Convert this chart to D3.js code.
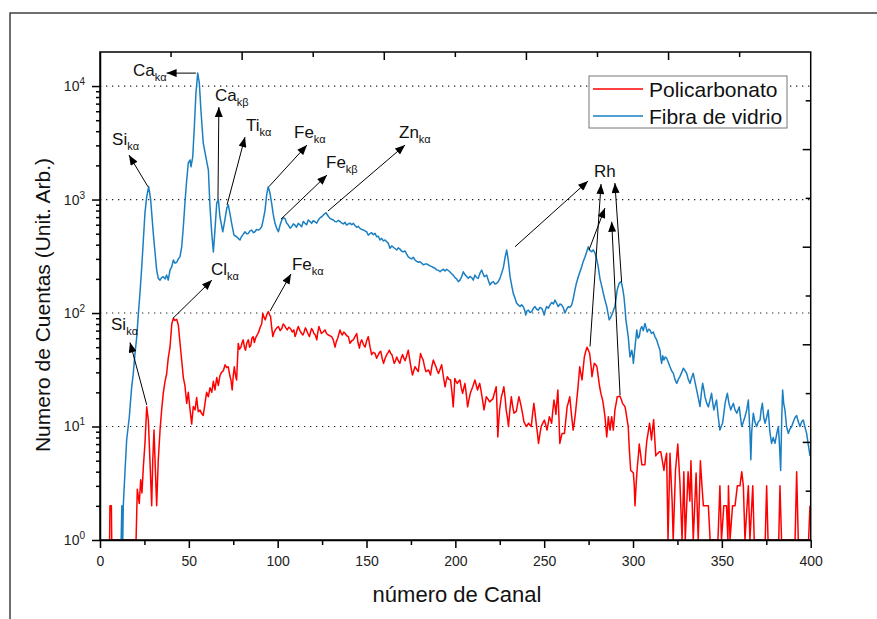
<!DOCTYPE html>
<html>
<head>
<meta charset="utf-8">
<script src="https://cdn.jsdelivr.net/npm/d3@7"></script>
<style>
  body { margin: 0; background: #fff; }
  svg { display: block; font-family: "Liberation Sans", Arial, sans-serif; }
</style>
</head>
<body>
<svg id="chart" width="877" height="619"></svg>
<script>
// ---- data ----
const canalTicks = [0, 50, 100, 150, 200, 250, 300, 350, 400];
const canalMinor = [25, 75, 125, 175, 225, 275, 325, 375];
const cuentasTicks = [1, 10, 100, 1000, 10000];
const seriesNames = ["Policarbonato", "Fibra de vidrio"];

// [canal, cuentas]
const policarbonato = [[5.4,1],[5.6,2],[6.4,2],[6.6,1],[20.3,1],[21.0,2.8],[22.1,2.1],[22.9,3.4],[23.6,2.6],[24.4,4.4],[25.3,7.1],[26.3,14.9],[27.2,11.4],[28.1,5.1],[29.1,2],[29.7,5.1],[30.4,9.3],[31.1,4.4],[31.9,2],[32.8,5.1],[33.8,9.3],[34.7,14],[35.6,19.6],[36.6,25],[37.5,29],[38.4,40],[39.4,50],[40.4,80],[41.3,90],[42.2,86],[43.2,88],[44.1,78],[45.0,55],[46.0,38],[46.9,27],[47.8,23],[48.8,16],[49.7,20],[50.7,14],[51.6,10.5],[52.5,15],[53.5,14],[54.4,18],[55.3,13.5],[56.3,14],[57.2,13],[58.1,12.5],[59.1,16],[60.0,20],[61.0,18.3],[61.9,22],[62.9,20],[63.8,25],[64.7,21],[65.7,27],[66.6,23],[67.5,28],[68.4,30],[69.4,31],[70.4,35],[71.3,33],[72.2,33.6],[73.1,28],[73.7,25.7],[74.4,21],[75.0,28],[75.6,33.6],[76.3,28],[76.9,25.7],[77.8,54],[78.5,48],[79.3,50],[80.0,55],[80.6,58],[81.3,50],[81.9,47],[82.7,55],[83.5,58],[84.2,50],[84.9,52],[85.5,60],[86.2,62],[86.9,55],[87.5,60],[88.2,63],[88.9,66],[89.6,70],[90.3,76],[91.0,80],[91.6,99],[92.3,92],[93.0,87],[93.9,97],[94.7,103],[95.3,98],[96.0,93],[96.6,75],[97.3,62],[98.0,68],[98.7,71],[99.5,74],[100.4,76],[101.4,70],[102.3,73],[103.1,80],[103.8,78],[104.6,74],[105.4,71],[106.3,75],[107.2,73],[108.2,68],[109.1,71],[109.8,62],[110.4,66],[111.0,72],[111.6,76],[112.5,70],[113.5,66],[114.2,64],[114.9,68],[115.6,74],[116.2,71],[117.0,66],[117.9,62],[118.5,68],[119.1,73],[119.8,70],[120.4,66],[121.2,64],[122.0,58],[122.6,68],[123.2,76],[124.0,70],[124.6,66],[125.6,68],[126.6,71],[127.5,66],[128.5,64],[129.4,63],[130.4,62],[131.3,58],[132.3,50],[133.0,56],[133.8,60],[134.5,66],[135.1,71],[135.8,66],[136.4,64],[137.2,68],[138.0,66],[138.9,63],[139.8,62],[140.7,54],[141.7,57],[142.6,58],[143.5,62],[144.5,66],[145.2,55],[146.0,49],[146.6,55],[147.3,58],[148.2,53],[149.2,50],[150.1,57],[151.0,62],[152.0,50],[152.9,43],[153.8,45],[154.8,44],[155.7,40],[156.7,43],[157.3,45],[158.0,46],[158.8,40],[159.6,36],[160.5,40],[161.4,43],[162.2,45],[162.9,47],[163.6,44],[164.3,43],[165.0,39],[165.6,36],[166.3,38],[167.0,41],[167.9,38],[168.8,36],[169.5,40],[170.3,43],[171.0,40],[171.7,38],[172.6,42],[173.5,47],[174.2,40],[174.8,35],[175.4,31],[175.9,28.4],[176.6,31],[177.3,33.6],[178.2,32],[179.1,30.5],[179.8,37],[180.4,44],[181.1,41],[181.9,38.5],[182.6,34],[183.4,30.5],[184.2,31],[184.9,31.5],[185.5,30],[186.0,28.4],[186.8,34],[187.6,38.5],[188.3,36],[189.1,33.6],[189.8,31],[190.5,29.4],[191.4,32],[192.3,35],[193.2,28],[194.2,22.4],[194.8,25],[195.5,27.5],[196.4,26],[197.3,25.7],[198.1,20],[198.8,14.9],[199.3,20],[199.7,26.5],[200.4,25],[201.1,24],[201.8,25],[202.6,25.7],[203.3,22],[204.1,19.6],[204.8,22],[205.4,24],[206.2,19],[206.9,14.9],[207.6,17],[208.4,19.6],[209.1,21],[209.8,22.4],[210.4,24],[211.0,25.7],[211.8,23],[212.5,21],[213.1,22.5],[213.7,24],[214.4,21],[215.0,18.3],[215.6,16],[216.1,14],[216.8,16],[217.4,18.3],[218.4,17.4],[219.3,16.5],[220.2,17],[221.1,17.5],[222.1,20],[223.0,22.4],[223.5,14],[223.9,8.1],[224.4,11],[224.9,14],[225.4,16],[225.9,18.3],[226.6,20],[227.3,22.4],[228.0,18],[228.6,14],[229.3,12],[229.9,10],[230.7,14],[231.5,18.3],[232.3,15],[233.0,13.1],[233.7,13.4],[234.3,13.6],[235.1,16],[235.8,18.3],[236.5,16.5],[237.1,14.9],[237.9,12.8],[238.6,11],[239.3,10.5],[239.9,10],[240.6,10.3],[241.2,10.7],[242.0,10.3],[242.7,10],[243.5,13],[244.2,16],[244.9,13],[245.5,10.7],[246.2,8.7],[246.8,7.1],[247.6,8.6],[248.3,10],[249.2,10.7],[250.1,11.4],[250.9,10.3],[251.6,9.3],[252.3,10.7],[252.9,12.2],[253.6,11.4],[254.2,10.7],[254.9,14],[255.5,17.1],[256.1,15],[256.6,12.8],[257.2,17],[257.7,21],[258.3,12],[258.8,7.1],[259.5,8],[260.1,8.7],[260.8,8.7],[261.4,8.7],[262.2,11.5],[262.9,14.9],[263.7,16.5],[264.4,18.3],[265.3,13],[266.3,9.3],[267.0,11],[267.6,13.1],[268.3,17],[268.9,21],[269.5,27],[270.0,33.6],[270.7,29],[271.3,25.7],[272.0,33],[272.6,41],[273.4,46],[274.1,50],[274.9,47],[275.6,44],[276.3,35],[276.9,27.5],[277.6,32],[278.2,36],[279.0,35],[279.7,33.6],[280.5,27],[281.2,22.4],[282.1,19],[282.9,17.1],[283.6,14.5],[284.2,12.2],[284.7,10],[285.2,8.1],[285.7,10],[286.1,12.2],[286.6,10.5],[287.1,9.3],[287.5,10.8],[288.0,12.2],[288.5,10.5],[288.9,9.3],[289.4,11.5],[289.8,14],[290.5,16],[291.1,18.3],[291.9,18.4],[292.6,18.6],[293.4,17.3],[294.1,16],[294.8,15.5],[295.5,14.9],[296.0,13.5],[296.4,12.2],[297.3,10],[298.0,6],[298.7,4.1],[299.5,4],[300.2,3.9],[300.7,3],[301.1,2],[301.8,3.2],[302.4,4.4],[303.0,5.5],[303.5,7],[304.2,5.8],[305.0,4.6],[305.8,4.6],[306.7,4.6],[307.2,6],[307.8,7.6],[308.6,9],[309.3,10.7],[309.9,9],[310.4,7.6],[311.0,9.5],[311.6,11.5],[312.2,8],[312.8,5.5],[313.4,5.7],[314.0,5.8],[314.8,6],[315.6,6],[316.5,5],[317.4,4.1],[318.1,5],[318.9,5.8],[319.7,1],[320.8,5.8],[322.0,2.2],[322.6,1],[323.9,4.1],[325.2,7],[326.4,3.2],[327.6,1],[328.6,4],[329.4,1],[331.0,4],[332.0,2.2],[332.6,5],[333.9,1],[335.5,3.9],[336.7,1],[337.9,5],[338.8,3],[339.6,2],[341.0,2],[342.4,2],[343.4,1],[347.8,1],[348.9,3],[349.8,1],[351.1,2],[352.6,2],[353.4,1],[353.7,3],[354.6,1],[356.0,2],[357.4,2],[358.7,3],[360.2,3],[361.2,4],[362.1,3],[363.0,1],[363.9,1.7],[364.9,3],[365.8,1],[367.4,3],[368.2,1],[374.4,1],[375.2,3],[376.0,1],[382.0,1],[382.7,3],[383.6,1],[391.2,1],[392.1,4],[393.0,1],[398.8,1],[399.6,2]];

const fibraVidrio = [[11.9,1],[12.3,2],[12.8,1],[13.1,2],[14.1,4.1],[15.0,7.6],[16.5,12.2],[17.8,22],[18.7,29],[19.7,44],[20.7,62],[21.6,99],[22.5,150],[23.5,256],[24.4,440],[25.3,760],[26.3,1060],[27.4,1300],[28.5,1000],[30.0,503],[31.0,338],[31.9,239],[32.8,202],[33.8,195],[34.7,205],[35.6,209],[36.6,200],[37.5,216],[38.4,195],[39.4,239],[40.4,256],[41.3,293],[42.2,275],[43.2,280],[44.1,300],[45.0,313],[46.0,384],[46.9,576],[47.8,931],[48.8,1486],[49.7,2100],[50.7,2230],[51.2,1945],[52.2,2380],[53.1,4380],[54.0,8670],[55.0,13030],[55.9,10620],[56.8,6150],[58.1,3150],[59.7,2320],[61.0,1820],[61.9,865],[62.9,503],[63.8,345],[64.7,538],[65.7,931],[66.6,1000],[67.5,705],[69.1,520],[70.4,680],[71.4,850],[72.2,895],[73.1,760],[74.1,617],[75.4,486],[76.9,470],[77.8,455],[78.8,440],[79.6,470],[80.3,486],[81.6,520],[82.5,500],[83.5,503],[84.4,530],[85.4,538],[86.3,510],[87.2,520],[88.1,545],[89.1,538],[90.0,550],[91.0,576],[92.0,680],[92.9,808],[93.8,1100],[94.7,1297],[95.6,1150],[96.6,931],[97.5,740],[98.5,617],[99.4,560],[100.4,520],[101.3,590],[102.3,660],[103.2,690],[104.1,682],[105.0,620],[106.0,596],[107.0,560],[107.9,576],[108.8,610],[109.7,596],[110.6,570],[111.6,617],[112.5,600],[113.5,576],[114.4,640],[115.4,617],[116.3,600],[117.2,660],[118.2,640],[119.1,617],[120.0,650],[121.0,637],[122.0,620],[122.9,660],[123.8,690],[124.8,705],[126.0,740],[127.2,765],[128.3,720],[129.4,682],[130.4,670],[131.3,660],[132.3,640],[133.2,637],[134.2,655],[135.1,640],[136.1,620],[137.0,610],[137.9,630],[138.8,596],[139.8,610],[140.7,620],[141.7,600],[142.6,617],[143.5,590],[144.5,570],[145.4,580],[146.3,557],[147.3,545],[148.2,540],[149.1,530],[150.1,520],[151.0,486],[151.9,500],[152.9,510],[153.8,490],[154.8,503],[155.7,470],[156.6,475],[157.6,440],[158.5,455],[159.5,432],[160.4,440],[161.4,425],[162.3,411],[163.2,372],[164.2,390],[165.1,380],[166.0,370],[167.0,359],[167.9,375],[168.9,365],[169.8,350],[170.7,347],[171.7,352],[172.6,330],[173.5,313],[174.5,305],[175.4,300],[176.4,310],[177.3,293],[178.2,285],[179.2,280],[180.1,283],[181.1,274],[182.0,266],[183.0,270],[183.9,271],[184.8,265],[185.8,260],[186.7,256],[187.6,252],[188.5,248],[189.5,240],[190.4,238],[191.4,231],[192.3,238],[193.3,243],[194.2,235],[195.1,243],[196.1,237],[197.0,230],[197.9,222],[198.8,216],[199.8,205],[200.7,200],[201.7,189],[202.6,195],[203.6,210],[204.5,231],[205.4,218],[206.4,210],[207.3,202],[208.2,210],[209.2,205],[210.1,195],[211.0,216],[212.0,205],[212.9,202],[213.9,225],[214.8,239],[215.7,220],[216.3,209],[217.6,216],[218.5,195],[219.5,177],[220.4,185],[221.4,189],[222.3,180],[223.3,183],[224.2,190],[225.1,202],[226.1,225],[227.0,250],[228.0,310],[228.9,359],[229.8,290],[230.8,209],[231.7,175],[232.6,149],[233.6,135],[234.5,122],[235.4,118],[236.4,114],[237.3,118],[238.2,114],[239.1,105],[239.6,96],[240.2,104],[241.1,106],[242.0,101],[243.0,103],[243.9,110],[244.8,114],[245.8,108],[246.7,106],[247.6,112],[248.6,110],[249.5,102],[250.0,96],[250.5,104],[251.4,114],[252.3,110],[253.3,118],[254.2,124],[255.2,120],[256.1,130],[257.0,122],[257.9,114],[258.9,120],[259.8,118],[260.7,112],[261.7,100],[262.6,108],[263.6,114],[264.5,112],[265.5,118],[266.4,135],[267.3,160],[268.2,185],[269.2,209],[270.1,230],[271.1,256],[272.0,285],[273.0,313],[273.9,345],[274.8,384],[275.8,355],[276.7,347],[277.6,360],[278.6,338],[279.5,300],[280.4,256],[281.4,200],[282.3,175],[283.3,149],[284.2,130],[285.2,114],[285.9,100],[286.6,87],[287.5,92],[288.5,100],[289.2,108],[289.8,114],[290.5,135],[291.1,160],[292.2,183],[293.0,188],[293.6,183],[294.3,160],[294.9,139],[295.5,110],[296.0,87],[296.7,72],[297.3,62],[297.8,50],[298.3,41],[299.3,47],[299.8,42],[300.2,36],[301.1,50],[302.1,71],[302.8,60],[303.5,62],[304.2,72],[304.9,76],[305.8,70],[306.7,81],[307.4,74],[308.0,68],[308.8,72],[309.5,71],[310.4,66],[311.4,68],[312.3,62],[313.3,58],[314.2,52],[315.2,47],[315.6,40],[316.1,36],[316.7,42],[317.4,38.5],[318.1,41],[318.9,40],[319.8,37],[320.8,33.6],[321.7,31],[322.7,29.4],[323.6,26],[324.6,24],[325.5,26],[326.4,27.5],[327.4,30],[328.3,32.6],[329.3,31],[330.2,29.4],[331.1,26],[332.1,24],[333.0,27],[333.9,29.4],[334.8,25],[335.8,21],[336.7,18],[337.7,15],[338.5,20],[339.2,24],[339.9,21],[340.5,18.3],[341.5,16],[342.4,14.9],[343.3,17],[344.2,19.6],[344.9,16],[345.5,14],[346.2,15.5],[347.0,17.1],[348.0,12],[348.9,9.3],[349.6,10],[350.4,10.7],[351.1,13],[351.8,16],[352.5,18],[353.1,19.6],[354.0,16],[355.0,14],[355.7,15],[356.5,16],[357.4,14],[358.4,13.1],[359.1,14],[359.8,14.9],[360.5,12],[361.2,10],[362.1,11],[363.0,12.2],[364.0,14],[364.9,17.1],[365.8,9],[366.3,5.1],[366.8,9],[367.7,13.1],[368.6,11],[369.6,10],[370.5,11],[371.5,11.4],[372.1,14],[372.8,16],[373.6,12],[374.3,10.7],[375.2,12],[376.1,14],[377.0,9],[378.0,7.1],[378.9,8],[379.9,7.1],[380.8,8.5],[381.8,10],[382.4,7],[383.1,4.1],[383.7,12],[384.2,21],[384.8,16],[385.5,14],[386.4,10],[387.4,8.7],[388.3,9.5],[389.3,10],[390.2,11],[391.2,12],[392.1,12.5],[393.0,11],[394.0,10],[394.9,11],[395.8,11.4],[396.7,10],[397.7,8.7],[398.6,7],[399.6,5.5]];

// peak labels: arrow tail -> arrow head, label anchor (canal / cuentas)
const picos = [
  { el: "Ca", sub: "k\u03b1", from: [54.0, 13000], to: [37.5, 13000], at: [18.6, 12250] },
  { el: "Ca", sub: "k\u03b2", from: [66.4, 1000], to: [66.9, 6530], at: [64.7, 7380] },
  { el: "Ti", sub: "k\u03b1", from: [71.5, 895], to: [81.6, 3550], at: [82.2, 4015] },
  { el: "Fe", sub: "k\u03b1", from: [95.1, 1300], to: [116.5, 3020], at: [109.2, 3480] },
  { el: "Fe", sub: "k\u03b2", from: [101.9, 673], to: [127.8, 1644], at: [127.2, 1895] },
  { el: "Zn", sub: "k\u03b1", from: [128.3, 792], to: [171.7, 3020], at: [168.3, 3480] },
  { el: "Si", sub: "k\u03b1", from: [27.0, 1297], to: [16.3, 2466], at: [6.8, 3020] },
  { el: "Si", sub: "k\u03b1", from: [26.3, 15.5], to: [16.9, 55], at: [6.2, 71] },
  { el: "Cl", sub: "k\u03b1", from: [41.1, 90], to: [63.0, 195], at: [62.5, 216] },
  { el: "Fe", sub: "k\u03b1", from: [95.7, 104], to: [107.5, 221], at: [108.0, 239] },
  { el: "Rh", sub: "", from: null, to: null, at: [278.0, 1578] }
];
const rhFlechas = [
  { from: [233.6, 384], to: [274.7, 1456] },
  { from: [275.8, 50.7], to: [282.0, 1371] },
  { from: [275.2, 359], to: [284.2, 841] },
  { from: [292.7, 18.9], to: [288.0, 637] },
  { from: [293.6, 187], to: [289.8, 1398] }
];

const colors = ["#ff0000", "#1a7fc2"];

// ---- layout ----
const svg = d3.select("#chart");
const plotL = 100, plotR = 810.7, plotT = 52, plotB = 540;

const x = d3.scaleLinear().domain([0, 400]).range([plotL, plotR]);
const y = d3.scaleLog().domain([1, Math.pow(10, 4.3)]).range([plotB, plotT]);

// outer frame of the figure
svg.append("rect").attr("x", 10).attr("y", 13).attr("width", 900).attr("height", 700)
  .attr("fill", "none").attr("stroke", "#333").attr("stroke-width", 1.4);

const defs = svg.append("defs");
defs.append("clipPath").attr("id", "plotClip")
  .append("rect").attr("x", plotL).attr("y", plotT).attr("width", plotR - plotL).attr("height", plotB - plotT);

const marker = defs.append("marker")
  .attr("id", "arrow").attr("viewBox", "0 0 10 8")
  .attr("refX", 10).attr("refY", 4)
  .attr("markerWidth", 11).attr("markerHeight", 8)
  .attr("markerUnits", "userSpaceOnUse").attr("orient", "auto");
marker.append("path").attr("d", "M0,0 L10,4 L0,8 Z").attr("fill", "#000");

// dotted grid on the decades
svg.append("g").selectAll("line").data(cuentasTicks.slice(1)).enter().append("line")
  .attr("x1", plotL).attr("x2", plotR)
  .attr("y1", d => y(d)).attr("y2", d => y(d))
  .attr("stroke", "#222").attr("stroke-width", 1.2).attr("stroke-dasharray", "1.3,4.7");

// series
const line = d3.line().x(d => x(d[0])).y(d => y(Math.max(1, d[1])));
const plot = svg.append("g").attr("clip-path", "url(#plotClip)");
[policarbonato, fibraVidrio].forEach((data, i) => {
  plot.append("path").datum(data)
    .attr("d", line).attr("fill", "none")
    .attr("stroke", colors[i]).attr("stroke-width", 1.5).attr("stroke-linejoin", "round");
});

// axes
const axisStyle = g => {
  g.selectAll("path, line").attr("stroke", "#000").attr("stroke-width", 1.5);
  g.selectAll("text").attr("fill", "#222").attr("font-size", 14)
    .attr("font-family", "'Liberation Sans', Arial, sans-serif");
};

svg.append("g").attr("transform", `translate(0,${plotB})`)
  .call(d3.axisBottom(x).tickValues(canalTicks).tickSize(8).tickPadding(8).tickSizeOuter(0))
  .call(axisStyle);
svg.append("g").attr("transform", `translate(0,${plotB})`)
  .call(d3.axisBottom(x).tickValues(canalMinor).tickSize(5).tickFormat("").tickSizeOuter(0))
  .call(axisStyle).select(".domain").remove();

const minorY = [];
for (let e = 0; e < 5; e++) for (let m = 2; m <= 9; m++) {
  const v = m * Math.pow(10, e);
  if (v < Math.pow(10, 4.3)) minorY.push(v);
}
const yAxis = svg.append("g").attr("transform", `translate(${plotL},0)`)
  .call(d3.axisLeft(y).tickValues(cuentasTicks).tickSize(8).tickPadding(7).tickSizeOuter(0))
  .call(axisStyle);
yAxis.selectAll(".tick text").text(null).each(function(d) {
  const t = d3.select(this);
  t.append("tspan").text("10");
  t.append("tspan").attr("font-size", 10).attr("dy", "-0.6em").text(Math.round(Math.log10(d)));
});
svg.append("g").attr("transform", `translate(${plotL},0)`)
  .call(d3.axisLeft(y).tickValues(minorY).tickSize(4).tickFormat("").tickSizeOuter(0))
  .call(axisStyle).select(".domain").remove();

// top and right frame axes, ticks pointing in
const topScale = d3.scaleLinear().domain([0, 10]).range([plotL, plotR]);
const rightScale = d3.scaleLinear().domain([0, 10]).range([plotB, plotT]);
const inner = d3.range(1, 10);
svg.append("g").selectAll("line").data(inner).enter().append("line")
  .attr("x1", d => topScale(d)).attr("x2", d => topScale(d))
  .attr("y1", plotT).attr("y2", d => plotT + (d % 2 === 0 ? 8 : 5))
  .attr("stroke", "#000").attr("stroke-width", 1.5);
svg.append("g").selectAll("line").data(inner).enter().append("line")
  .attr("y1", d => rightScale(d)).attr("y2", d => rightScale(d))
  .attr("x1", plotR).attr("x2", d => plotR - (d % 2 === 0 ? 8 : 5))
  .attr("stroke", "#000").attr("stroke-width", 1.5);

svg.append("rect").attr("x", plotL).attr("y", plotT)
  .attr("width", plotR - plotL).attr("height", plotB - plotT)
  .attr("fill", "none").attr("stroke", "#000").attr("stroke-width", 1.5);

// axis titles
svg.append("text").attr("x", 457).attr("y", 602).attr("text-anchor", "middle")
  .attr("font-size", 22).attr("fill", "#111").text("n\u00famero de Canal");
svg.append("text").attr("transform", "translate(50,305) rotate(-90)").attr("text-anchor", "middle")
  .attr("font-size", 21).attr("fill", "#111").text("Numero de Cuentas (Unit. Arb.)");

// annotations
const ann = svg.append("g");
picos.forEach(p => {
  if (p.from) {
    ann.append("line")
      .attr("x1", x(p.from[0])).attr("y1", y(p.from[1]))
      .attr("x2", x(p.to[0])).attr("y2", y(p.to[1]))
      .attr("stroke", "#000").attr("stroke-width", 1).attr("marker-end", "url(#arrow)");
  }
  const t = ann.append("text").attr("x", x(p.at[0])).attr("y", y(p.at[1]))
    .attr("font-size", 17).attr("fill", "#111");
  t.append("tspan").text(p.el);
  if (p.sub) t.append("tspan").attr("font-size", 11).attr("dy", 5).text(p.sub);
});
rhFlechas.forEach(f => {
  ann.append("line")
    .attr("x1", x(f.from[0])).attr("y1", y(f.from[1]))
    .attr("x2", x(f.to[0])).attr("y2", y(f.to[1]))
    .attr("stroke", "#000").attr("stroke-width", 1).attr("marker-end", "url(#arrow)");
});

// legend
const lg = svg.append("g");
lg.append("rect").attr("x", 589).attr("y", 76).attr("width", 198).attr("height", 52)
  .attr("fill", "#fff").attr("stroke", "#777").attr("stroke-width", 1);
seriesNames.forEach((name, i) => {
  const ly = 89 + i * 27;
  lg.append("line").attr("x1", 593).attr("x2", 643).attr("y1", ly).attr("y2", ly)
    .attr("stroke", colors[i]).attr("stroke-width", 1.5);
  lg.append("text").attr("x", 649).attr("y", ly + 7.5).attr("font-size", 21)
    .attr("fill", "#111").text(name);
});
</script>
</body>
</html>
